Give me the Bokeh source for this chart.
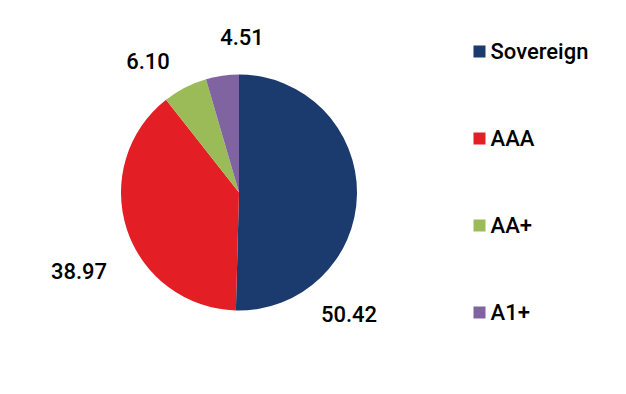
import numpy as np
from bokeh.plotting import figure
from bokeh.models import Range1d
from bokeh.core.properties import value
from bokeh.embed import file_html
from bokeh.resources import INLINE

categories = ["Sovereign", "AAA", "AA+", "A1+"]
values = [50.42, 38.97, 6.10, 4.51]
labels = ["50.42", "38.97", "6.10", "4.51"]
colors = ["#1b3a6e", "#e31e24", "#9bbb59", "#8064a2"]

W, H = 610, 378
# layout (pixel units)
cx, cy, r = 238.5, H - 192, 118
label_dx = [110, -160, -91, 3]
label_dy = [-121, -78, 132, 156]
leg_x, leg_y0, leg_step = 479, H - 51, 87

p = figure(width=W, height=H, output_backend="svg", toolbar_location=None,
           x_range=Range1d(0, W), y_range=Range1d(0, H), min_border=0)
p.axis.visible = False
p.grid.visible = False
p.outline_line_color = None

vals = np.array(values)
frac = vals / vals.sum()
cum = np.concatenate([[0], np.cumsum(frac)])
start = np.pi / 2 - cum[:-1] * 2 * np.pi
end = np.pi / 2 - cum[1:] * 2 * np.pi

p.wedge(x=cx, y=cy, radius=r, start_angle=start, end_angle=end, direction="clock",
        fill_color=colors, line_color=None)

font = value("Roboto Medium")
p.text(x=[cx + d for d in label_dx], y=[cy + d for d in label_dy], text=labels,
       text_font=font, text_font_size="22px",
       text_color="#000000", text_align="center", text_baseline="middle")

ly = [leg_y0 - i * leg_step for i in range(len(categories))]
p.scatter(x=[leg_x] * len(categories), y=ly, marker="square", size=12,
          fill_color=colors, line_color=None)
p.text(x=[leg_x + 11] * len(categories), y=ly, text=categories,
       text_font=font, text_font_size="22px",
       text_color="#000000", text_align="left", text_baseline="middle")

open("out.html", "w").write(file_html(p, INLINE))
